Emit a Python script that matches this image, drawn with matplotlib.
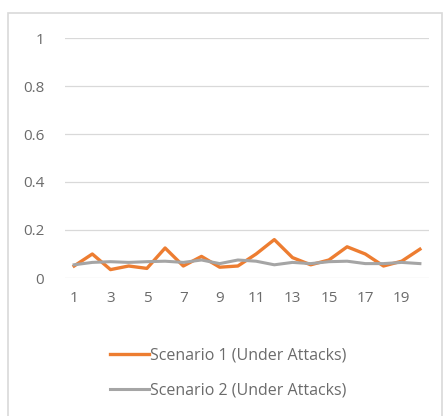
import matplotlib
matplotlib.use("Agg")
import matplotlib.pyplot as plt
from matplotlib.patches import Rectangle

steps = list(range(1, 21))
scenario1 = [0.05, 0.10, 0.035, 0.05, 0.04, 0.125, 0.05, 0.09, 0.045, 0.05,
             0.10, 0.16, 0.085, 0.055, 0.075, 0.13, 0.10, 0.05, 0.07, 0.12]
scenario2 = [0.055, 0.065, 0.068, 0.065, 0.068, 0.07, 0.065, 0.075, 0.06, 0.075,
             0.07, 0.055, 0.065, 0.06, 0.068, 0.07, 0.06, 0.06, 0.065, 0.06]
series_names = ["Scenario 1 (Under Attacks)", "Scenario 2 (Under Attacks)"]
y_ticks = [0, 0.2, 0.4, 0.6, 0.8, 1]
y_tick_labels = ["0", "0.2", "0.4", "0.6", "0.8", "1"]
x_ticks = list(range(1, 20, 2))

plt.rcParams["font.family"] = ["Open Sans", "DejaVu Sans"]

W, H = 446, 416
fig = plt.figure(figsize=(W / 100, H / 100), dpi=100)
fig.patch.set_facecolor("white")

# chart-area frame
fig.add_artist(Rectangle((8 / W, -0.05), (442 - 8) / W, 1 - 13 / H + 0.05,
                         transform=fig.transFigure, fill=False,
                         edgecolor="#D9D9D9", lw=1.2))

ax = fig.add_axes([65 / W, 1 - 278 / H, (429 - 65) / W, (278 - 38) / H])
ax.set_xlim(0.5, 20.5)
ax.set_ylim(0, 1)
for s in ax.spines.values():
    s.set_visible(False)
ax.set_yticks(y_ticks)
ax.set_yticklabels(y_tick_labels)
ax.set_xticks(x_ticks)
ax.set_xticklabels([str(v) for v in x_ticks])
ax.tick_params(axis="both", length=0, labelsize=11, labelcolor="#6b6b6b")
ax.tick_params(axis="y", pad=15)
ax.tick_params(axis="x", pad=9)
ax.grid(axis="y", color="#D9D9D9", lw=0.9)
ax.set_axisbelow(True)

l1, = ax.plot(steps, scenario1, color="#ED7D31", lw=2.4, solid_joinstyle="round")
l2, = ax.plot(steps, scenario2, color="#A5A5A5", lw=2.2, solid_joinstyle="round")

fig.legend([l1, l2], series_names, loc="upper left",
           bbox_to_anchor=(104 / W, 1 - 341 / H), frameon=False,
           fontsize=11.5, labelcolor="#6b6b6b", handlelength=2.4,
           handletextpad=0.1, labelspacing=1.2, borderaxespad=0)

fig.savefig("out.png", dpi=100, facecolor="white")
